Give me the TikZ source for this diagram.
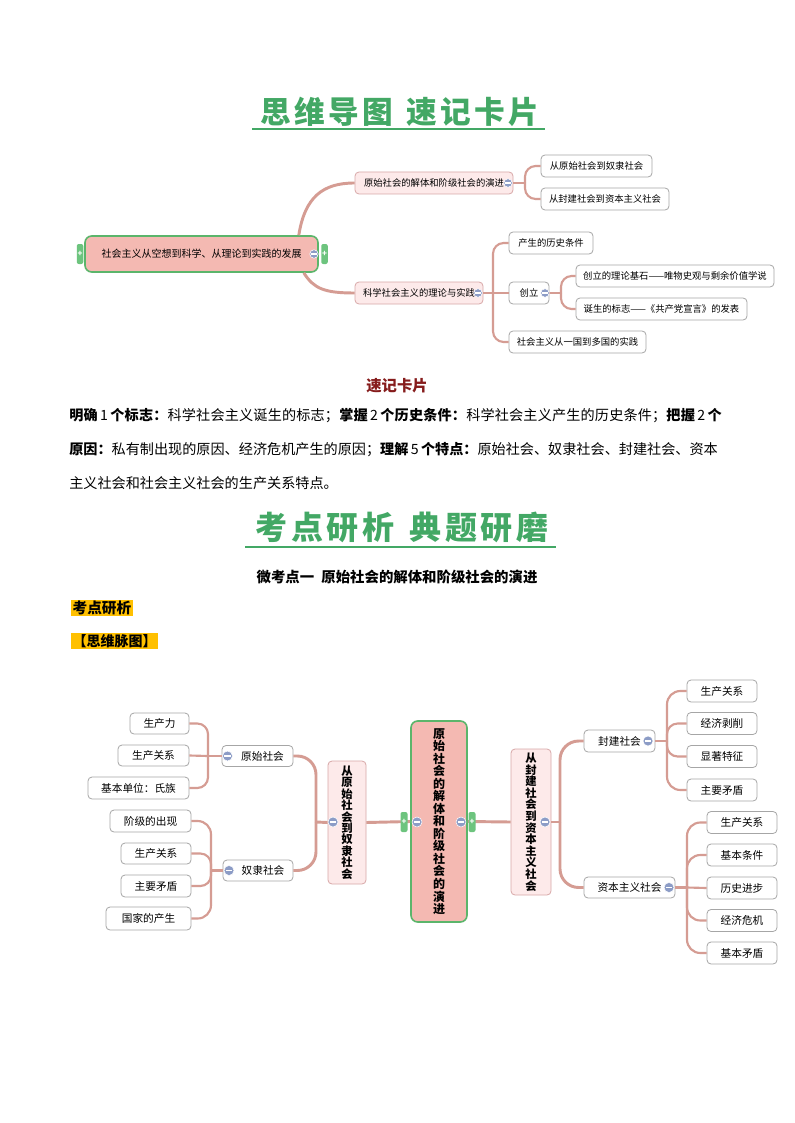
\documentclass[tikz,border=0pt]{standalone}
\usepackage{fontspec}
\setmainfont{Noto Sans CJK SC}
\usepackage{xcolor}
\definecolor{mapTitle}{HTML}{43A865}
\definecolor{mapCard}{HTML}{861C1C}
\definecolor{mapMark}{HTML}{FFC000}
\definecolor{mapRoot}{HTML}{F4B9B2}
\definecolor{mapRootEdge}{HTML}{5BB56B}
\definecolor{mapMid}{HTML}{FDEAEA}
\definecolor{mapMidEdge}{HTML}{D8A8A8}
\definecolor{mapLeafEdge}{HTML}{A6A6A6}
\definecolor{mapLink}{HTML}{D59C93}
\definecolor{mapMinus}{HTML}{8C9CC6}
\definecolor{mapPlus}{HTML}{6DC47E}
\newlength\px
\setlength\px{0.75pt}

\tikzset{
  bigtitle/.style={text=mapTitle, font=\bfseries\fontsize{23}{26}\selectfont\addfontfeatures{LetterSpace=11}, inner sep=0pt},
  titleline/.style={draw=mapTitle, line width=1.8pt},
  cardhead/.style={text=mapCard, font=\bfseries\fontsize{11.5}{13}\selectfont, inner sep=0pt},
  bodyline/.style={anchor=west, inner sep=0pt, font=\fontsize{10.6}{12}\selectfont},
  marked/.style={anchor=west, fill=mapMark, inner sep=1pt, font=\bfseries\fontsize{11}{12}\selectfont},
  rootbox/.style={draw=mapRootEdge, fill=mapRoot, line width=1.2pt, rounded corners=5pt, inner sep=0pt},
  midbox/.style={draw=mapMidEdge, fill=mapMid, line width=0.6pt, rounded corners=3pt, inner sep=0pt},
  leafbox/.style={draw=mapLeafEdge, fill=white, line width=0.6pt, rounded corners=3pt, inner sep=0pt},
  trunk/.style={draw=mapLink, line width=2.2pt, rounded corners=9pt},
  link/.style={draw=mapLink, line width=1.6pt, rounded corners=8pt},
  minus/.style={circle, fill=mapMinus, draw=white, line width=0.4pt, inner sep=0pt, minimum size=8.5\px,
    path picture={\draw[white, line width=1.1pt]
      ([xshift=-2.3pt]path picture bounding box.center) -- ([xshift=2.3pt]path picture bounding box.center);}},
  plustab/.style={fill=mapPlus, rounded corners=1.5pt, inner sep=0pt, minimum width=6.5\px, minimum height=20\px,
    text=white, font=\bfseries\fontsize{6}{6}\selectfont},
}

\begin{document}
\begin{tikzpicture}[x=0.75pt,y=-0.75pt]
  \useasboundingbox[fill=white] (0,0) rectangle (794,1123);

  % headings
  \node[bigtitle] (title1) at (400,112) {思维导图\hspace{0.45em}速记卡片};
  \draw[titleline] (252,129) -- (545,129);

  % first map
  \begin{scope}[font=\fontsize{7}{8}\selectfont]
    \node[rootbox, minimum width=233\px, minimum height=36\px, font=\fontsize{7.5}{9}\selectfont] (root) at (201.5,254) {社会主义从空想到科学、从理论到实践的发展};
    \node[midbox, minimum width=158\px, minimum height=22\px] (orig) at (434,183) {原始社会的解体和阶级社会的演进\hspace{6\px}};
    \node[midbox, minimum width=128\px, minimum height=22\px] (sci) at (419,293) {科学社会主义的理论与实践\hspace{6\px}};
    \node[leafbox, minimum width=111\px, minimum height=22\px] (origA) at (596.5,166) {从原始社会到奴隶社会};
    \node[leafbox, minimum width=128\px, minimum height=22\px] (origB) at (605,199) {从封建社会到资本主义社会};
    \node[leafbox, minimum width=84\px, minimum height=22\px] (sciA) at (551,243) {产生的历史条件};
    \node[leafbox, minimum width=40\px, minimum height=22\px] (found) at (529,293) {创立\hspace{8\px}};
    \node[leafbox, minimum width=137\px, minimum height=22\px] (sciC) at (577.5,342) {社会主义从一国到多国的实践};
    \node[leafbox, minimum width=198\px, minimum height=22\px] (foundA) at (675,276) {创立的理论基石——唯物史观与剩余价值学说};
    \node[leafbox, minimum width=171\px, minimum height=22\px] (foundB) at (661.5,309) {诞生的标志——《共产党宣言》的发表};

    \coordinate (hubOrig) at (525,183);
    \coordinate (hubSci) at (493,293);
    \coordinate (hubFound) at (561,293);

    \draw[trunk] ([xshift=-20\px]root.north east) .. controls +(6,-38) and +(-32,0) .. (orig.west);
    \draw[trunk] ([xshift=-15\px]root.south east) .. controls +(10,16) and +(-30,0) .. (sci.west);
    \draw[link] (orig.east) -- (hubOrig);
    \draw[link] (hubOrig) |- (origA.west);
    \draw[link] (hubOrig) |- (origB.west);
    \draw[link] (sci.east) -- (hubSci);
    \draw[link] (hubSci) |- (sciA.west);
    \draw[link] (hubSci) -- (found.west);
    \draw[link] (hubSci) |- (sciC.west);
    \draw[link] (found.east) -- (hubFound);
    \draw[link] (hubFound) |- (foundA.west);
    \draw[link] (hubFound) |- (foundB.west);

    \node[minus] (mRoot) at (314,254) {};
    \node[minus] (mOrig) at (508,183) {};
    \node[minus] (mSci) at (478,293) {};
    \node[minus] (mFound) at (545,293) {};
    \node[plustab] (pRootL) at (80,254) {+};
    \node[plustab] (pRootR) at (324.5,254) {+};
  \end{scope}

  % card text
  \node[cardhead] (card) at (397,386) {速记卡片};
  \node[bodyline, font=\fontsize{10.6}{12}\selectfont\addfontfeatures{LetterSpace=1.2}] (line1) at (69,416) {\textbf{明确}\,1\,\textbf{个标志：}科学社会主义诞生的标志；\textbf{掌握}\,2\,\textbf{个历史条件：}科学社会主义产生的历史条件；\textbf{把握}\,2\,\textbf{个}};
  \node[bodyline] (line2) at (69,450) {\textbf{原因：}私有制出现的原因、经济危机产生的原因；\textbf{理解}\,5\,\textbf{个特点：}原始社会、奴隶社会、封建社会、资本};
  \node[bodyline] (line3) at (69,483) {主义社会和社会主义社会的生产关系特点。};

  \node[bigtitle, font=\bfseries\fontsize{24}{27}\selectfont\addfontfeatures{LetterSpace=12}] (title2) at (402,527) {考点研析\hspace{0.45em}典题研磨};
  \draw[titleline] (245,547) -- (556,547);
  \node[cardhead, text=black, font=\bfseries\fontsize{10.8}{12}\selectfont] (topic) at (397,577) {微考点一\hspace{0.5em}原始社会的解体和阶级社会的演进};
  \node[marked] (study) at (71,608) {考点研析};
  \node[marked, font=\bfseries\fontsize{10.5}{12}\selectfont] (sketch) at (71,641) {【思维脉图】};

  % second map
  \begin{scope}[font=\fontsize{8}{9}\selectfont, minus/.append style={minimum size=10\px}]
    \node[rootbox, minimum width=56\px, minimum height=201\px, align=center, font=\bfseries\fontsize{9}{9.4}\selectfont] (core) at (439,821.5)
      {原\\始\\社\\会\\的\\解\\体\\和\\阶\\级\\社\\会\\的\\演\\进};
    \node[midbox, minimum width=38\px, minimum height=123\px, align=center, font=\bfseries\fontsize{8.5}{8.55}\selectfont] (toSlave) at (347,822.5)
      {从\\原\\始\\社\\会\\到\\奴\\隶\\社\\会};
    \node[midbox, minimum width=40\px, minimum height=146\px, align=center, font=\bfseries\fontsize{8.5}{8.7}\selectfont] (toCap) at (531,822)
      {从\\封\\建\\社\\会\\到\\资\\本\\主\\义\\社\\会};

    \node[leafbox, minimum width=71\px, minimum height=21\px] (prim) at (257.5,756) {\hspace{10\px}原始社会};
    \node[leafbox, minimum width=70\px, minimum height=21\px] (slave) at (258,870.5) {\hspace{10\px}奴隶社会};
    \node[leafbox, minimum width=59\px, minimum height=21\px] (primA) at (159.5,723.5) {生产力};
    \node[leafbox, minimum width=71\px, minimum height=21\px] (primB) at (153.5,755.5) {生产关系};
    \node[leafbox, minimum width=101\px, minimum height=22\px] (primC) at (138.5,788) {基本单位：氏族};
    \node[leafbox, minimum width=81\px, minimum height=22\px] (slaveA) at (150.5,821) {阶级的出现};
    \node[leafbox, minimum width=70\px, minimum height=21\px] (slaveB) at (156,853.5) {生产关系};
    \node[leafbox, minimum width=70\px, minimum height=22\px] (slaveC) at (156,886) {主要矛盾};
    \node[leafbox, minimum width=85\px, minimum height=23\px] (slaveD) at (148.5,918.5) {国家的产生};

    \node[leafbox, minimum width=71\px, minimum height=22\px] (feud) at (619.5,741) {封建社会\hspace{10\px}};
    \node[leafbox, minimum width=91\px, minimum height=21\px] (capt) at (629.5,887.5) {资本主义社会\hspace{10\px}};
    \node[leafbox, minimum width=70\px, minimum height=22\px] (feudA) at (722,691) {生产关系};
    \node[leafbox, minimum width=70\px, minimum height=22\px] (feudB) at (722,723.5) {经济剥削};
    \node[leafbox, minimum width=70\px, minimum height=22\px] (feudC) at (722,756.5) {显著特征};
    \node[leafbox, minimum width=70\px, minimum height=22\px] (feudD) at (722,790) {主要矛盾};
    \node[leafbox, minimum width=70\px, minimum height=22\px] (captA) at (742,822.5) {生产关系};
    \node[leafbox, minimum width=70\px, minimum height=22\px] (captB) at (742,855) {基本条件};
    \node[leafbox, minimum width=70\px, minimum height=22\px] (captC) at (742,888) {历史进步};
    \node[leafbox, minimum width=70\px, minimum height=22\px] (captD) at (742,920.5) {经济危机};
    \node[leafbox, minimum width=70\px, minimum height=22\px] (captE) at (742,953) {基本矛盾};

    \coordinate (hubL) at (316,822);
    \coordinate (hubPrim) at (208,756);
    \coordinate (hubSlave) at (211,870.5);
    \coordinate (hubR) at (560,822);
    \coordinate (hubFeud) at (667,741);
    \coordinate (hubCapt) at (687,887.5);

    \draw[trunk] (core.west) -- (toSlave.east);
    \draw[trunk] (core.east) -- (toCap.west);
    \draw[trunk] (toSlave.west) -- (hubL);
    \draw[trunk, rounded corners=14pt] (hubL) |- (prim.east);
    \draw[trunk, rounded corners=14pt] (hubL) |- (slave.east);
    \draw[link] (prim.west) -- (hubPrim);
    \draw[link] (hubPrim) |- (primA.east);
    \draw[link] (hubPrim) -- (primB.east);
    \draw[link] (hubPrim) |- (primC.east);
    \draw[link] (slave.west) -- (hubSlave);
    \draw[link, rounded corners=10pt] (hubSlave) |- (slaveA.east);
    \draw[link] (hubSlave) |- (slaveB.east);
    \draw[link] (hubSlave) |- (slaveC.east);
    \draw[link, rounded corners=10pt] (hubSlave) |- (slaveD.east);

    \draw[trunk] (toCap.east) -- (hubR);
    \draw[trunk, rounded corners=14pt] (hubR) |- (feud.west);
    \draw[trunk, rounded corners=14pt] (hubR) |- (capt.west);
    \draw[link] (feud.east) -- (hubFeud);
    \draw[link, rounded corners=10pt] (hubFeud) |- (feudA.west);
    \draw[link] (hubFeud) |- (feudB.west);
    \draw[link] (hubFeud) |- (feudC.west);
    \draw[link, rounded corners=10pt] (hubFeud) |- (feudD.west);
    \draw[link] (capt.east) -- (hubCapt);
    \draw[link, rounded corners=10pt] (hubCapt) |- (captA.west);
    \draw[link, rounded corners=10pt] (hubCapt) |- (captB.west);
    \draw[link] (hubCapt) -- (captC.west);
    \draw[link, rounded corners=10pt] (hubCapt) |- (captD.west);
    \draw[link, rounded corners=10pt] (hubCapt) |- (captE.west);

    \node[minus] (mCoreL) at (417,822) {};
    \node[minus] (mCoreR) at (461,822) {};
    \node[minus] (mSlaveV) at (333,822) {};
    \node[minus] (mCapV) at (545,822) {};
    \node[minus] (mPrim) at (227.5,756) {};
    \node[minus] (mSlave) at (229,870.5) {};
    \node[minus] (mFeud) at (648,741) {};
    \node[minus] (mCapt) at (669,887.5) {};
    \node[plustab, minimum width=7\px] (pCoreL) at (404,822) {+};
    \node[plustab, minimum width=7\px] (pCoreR) at (472,822) {+};
  \end{scope}
\end{tikzpicture}
\end{document}
